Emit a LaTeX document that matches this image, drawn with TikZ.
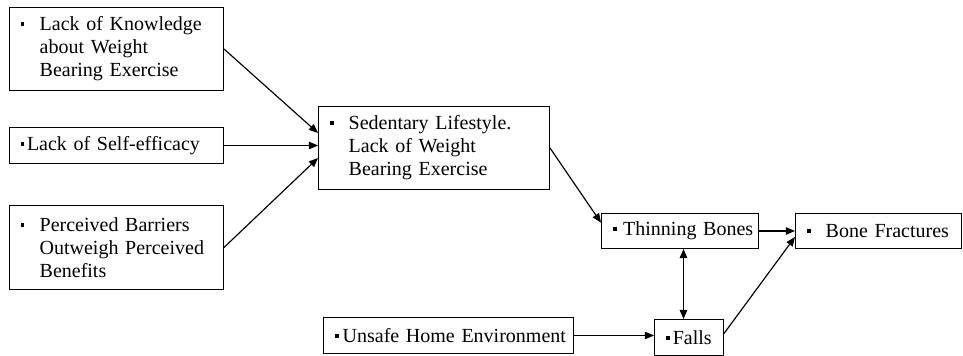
\documentclass[tikz,border=0pt]{standalone}
\usepackage{fontspec}
\setmainfont{Liberation Serif}
\usepackage{tikz}
\usetikzlibrary{positioning,calc,arrows.meta}

% square bullet, wide and tight forms
\newcommand{\bul}{\rule[2.8pt]{2.1pt}{2.4pt}}
\newcommand{\wbul}{\makebox[11.2pt][l]{\bul}}
\newcommand{\ind}{\hspace*{11.2pt}}

\tikzset{
    factor/.style={draw, line width=0.6pt, anchor=north west, inner xsep=6.9pt, inner ysep=0pt,
        align=left, font=\fontsize{12}{13.8}\selectfont},
    link/.style={-{Triangle[length=5.5pt,width=4.5pt]}, line width=0.7pt}
}

\begin{document}
\begin{tikzpicture}[x=0.6pt, y=-0.6pt]
    \useasboundingbox (0,0) rectangle (963,356);
    % causes on the left
    \node[factor, text width=114.6pt, minimum height=49.8pt] (knowledge) at (9,7)
        {\wbul Lack of Knowledge\\\ind about Weight\\\ind Bearing Exercise};
    \node[factor, text width=114.6pt, minimum height=21.6pt] (efficacy) at (9,127)
        {\mbox{\bul\hspace{1.5pt}Lack of Self-efficacy}};
    \node[factor, text width=114.6pt, minimum height=50.4pt] (barriers) at (9,205)
        {\wbul Perceived Barriers\\\ind Outweigh Perceived\\\ind Benefits};
    % middle and outcomes
    \node[factor, text width=124.8pt, minimum height=49.8pt] (sedentary) at (318,106)
        {\wbul Sedentary Lifestyle.\\\ind Lack of Weight\\\ind Bearing Exercise};
    \node[factor, text width=80.4pt, minimum height=21pt] (thinning) at (601,213)
        {\mbox{\bul\hspace{4pt}Thinning Bones}};
    \node[factor, text width=85.8pt, minimum height=21pt] (fractures) at (795,213)
        {\mbox{\wbul Bone Fractures}};
    \node[factor, text width=136.2pt, minimum height=21.6pt] (unsafe) at (323,317)
        {\mbox{\bul\hspace{2.5pt}Unsafe Home Environment}};
    \node[factor, text width=27.6pt, minimum height=21.6pt] (falls) at (654,319)
        {\mbox{\bul\hspace{2pt}Falls}};

    % arrows
    \draw[link] (knowledge.east) -- ([yshift=9pt]sedentary.west);
    \draw[link] (efficacy.east) -- (efficacy.east -| sedentary.west);
    \draw[link] (barriers.east) -- ([yshift=-6pt]sedentary.west);
    \draw[link] (sedentary.east) -- ([yshift=5pt]thinning.west);
    \draw[link] (thinning.east) -- (thinning.east -| fractures.west);
    \draw[link] (unsafe.east) -- (unsafe.east -| falls.west);
    \draw[link, {Triangle[length=5.5pt,width=4.5pt]}-{Triangle[length=5.5pt,width=4.5pt]}, line width=1pt]
        ([xshift=-3.3pt]falls.north) -- ([xshift=-3.3pt]falls.north |- thinning.south);
    \draw[link] ([yshift=2.4pt]falls.east) -- ([yshift=-3.6pt]fractures.west);
\end{tikzpicture}
\end{document}
